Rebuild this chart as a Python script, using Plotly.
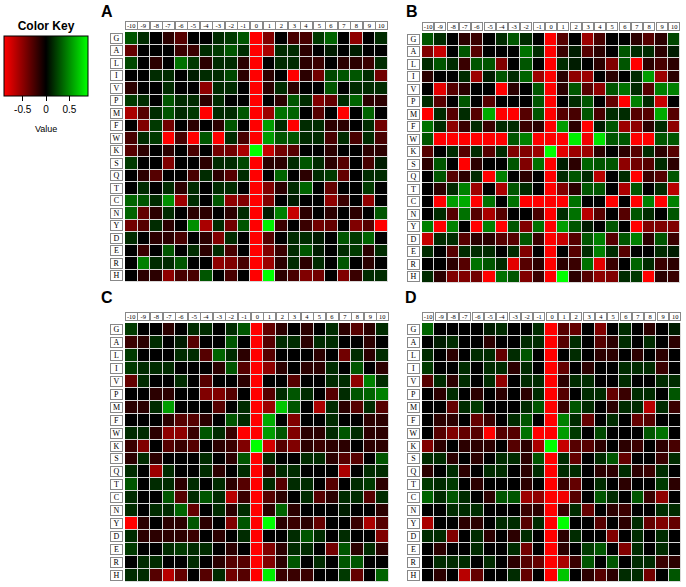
import plotly.graph_objects as go

W, H = 686, 587

# amino acid rows and residue positions
rows = ['G', 'A', 'L', 'I', 'V', 'P', 'M', 'F', 'W', 'K',
        'S', 'Q', 'T', 'C', 'N', 'Y', 'D', 'E', 'R', 'H']
cols = list(range(-10, 11))

# values (rows x positions)
panel_a = [
    [0.3, 0.15, 0, -0.15, -0.3, 0, 0, 0.15, 0.2, 0.3, -0.9, -0.45, 0, -0.25, -0.25, 0.2, 0.35, 0, -0.5, 0, 0.15],
    [-0.35, 0, 0, 0, -0.2, -0.2, 0.15, 0.2, 0.3, 0.15, -0.9, -0.6, 0.15, 0.15, -0.15, 0, 0.1, 0, 0.1, 0, 0],
    [0.25, 0, -0.15, 0, 0.4, 0.2, -0.15, 0.15, 0.15, -0.15, -0.9, 0, 0.15, 0.15, -0.15, -0.2, 0, -0.15, -0.15, -0.2, 0.15],
    [0, 0, 0.15, 0.15, 0, 0.1, 0.15, 0.15, 0.25, -0.15, -0.9, -0.15, 0, -0.9, -0.15, -0.4, 0.25, 0.3, 0.3, 0.15, -0.4],
    [-0.15, 0, 0, 0.15, 0, 0, -0.5, 0.15, 0.15, 0, -0.9, -0.15, 0.15, -0.15, 0, 0, 0.3, 0, 0.15, 0.15, 0.15],
    [0.2, 0.15, 0, 0.3, 0.15, 0.15, -0.15, 0.15, 0, 0, -0.9, 0, -0.15, 0.3, 0.15, -0.45, -0.35, 0.15, 0.35, -0.15, -0.15],
    [-0.6, -0.3, 0.15, 0.3, 0.15, 0.2, -0.9, 0.15, 0.15, 0.3, -0.9, -0.55, 0.4, 0.35, 0, -0.3, 0, -0.9, 0, 0.35, 0],
    [0, -0.45, 0.2, -0.4, 0, -0.15, 0, -0.15, 0.3, 0, -0.9, 0.55, 0.15, -0.9, 0.15, 0.15, -0.15, -0.15, 0, 0.15, -0.4],
    [-0.25, 0.15, 0.2, -0.9, -0.25, -0.9, 0.3, -0.9, 0.15, -0.25, -0.9, 0.55, 0.3, 0.3, 0.15, 0.15, -0.25, 0.15, -0.25, 0.15, -0.25],
    [-0.3, -0.15, 0, -0.15, 0, -0.25, 0, -0.4, -0.4, -0.6, 0.9, -0.7, -0.4, -0.3, 0, 0, -0.15, 0, 0, -0.15, -0.15],
    [0.2, 0, 0, -0.45, 0, 0, -0.15, 0.15, 0.15, 0.25, -0.9, -0.15, -0.15, 0.15, 0.3, 0.15, -0.15, -0.3, 0, -0.25, 0.1],
    [0, -0.15, -0.3, 0, 0, -0.25, 0.15, -0.15, -0.3, 0.15, -0.9, 0, 0.35, 0, -0.15, 0.15, 0.2, -0.35, 0, 0.15, 0.15],
    [0, 0.15, 0, 0.15, -0.15, 0.15, 0, 0.15, 0.15, 0, -0.9, -0.45, -0.15, 0.15, 0.35, 0, -0.35, 0, 0, 0.2, 0],
    [0.35, 0.3, 0.15, 0.5, -0.55, 0.15, 0, 0.3, -0.5, -0.45, -0.9, -0.45, 0, 0.1, 0, 0, -0.5, -0.2, 0, -0.5, 0],
    [0.35, -0.35, -0.15, 0.15, 0, -0.15, -0.15, 0, -0.15, 0.15, -0.9, 0.1, 0.45, -0.7, -0.15, 0, -0.15, 0, -0.15, 0, 0.3],
    [-0.4, -0.3, 0.15, -0.15, 0, 0.5, -0.6, 0.15, -0.4, 0.3, -0.9, 0.85, -0.2, 0, -0.2, -0.4, -0.35, 0, -0.45, -0.3, -0.9],
    [0.15, 0, -0.15, -0.15, -0.25, 0, -0.15, -0.45, 0.15, 0, -0.9, -0.3, 0, 0.15, 0.15, 0.1, 0, 0.3, 0.2, 0.35, 0],
    [0, -0.2, 0, 0.3, 0, 0.15, -0.15, 0.15, -0.25, 0, -0.9, -0.45, -0.2, 0.15, 0.3, 0.1, 0, 0.15, 0.2, -0.15, 0.15],
    [0, 0.45, 0.15, 0.15, 0.3, 0, 0, -0.5, -0.45, -0.25, -0.9, -0.55, -0.15, 0.15, -0.15, 0.15, 0, 0.3, 0, -0.15, 0],
    [0, -0.15, -0.15, -0.5, -0.25, -0.25, 0.3, 0, -0.25, 0, -0.9, 0.9, -0.15, -0.25, -0.45, -0.4, 0, -0.45, -0.2, 0.15, 0.15],
]

panel_b = [
    [0.3, 0.15, 0, -0.15, -0.2, 0, 0.15, 0.3, 0.15, 0, -0.9, -0.3, 0, -0.55, -0.25, 0, 0, -0.15, -0.3, -0.15, 0.25],
    [-0.45, -0.7, 0, 0.3, -0.3, 0, 0, 0, 0.4, 0.15, -0.9, -0.2, 0.1, -0.3, -0.15, 0, 0.3, 0.15, 0.15, -0.15, 0.1],
    [0.15, 0.3, 0.15, -0.2, 0.3, 0.3, -0.45, 0, 0.3, 0, -0.9, 0.15, 0.1, 0, -0.15, -0.45, 0.3, -0.9, -0.15, -0.25, -0.15],
    [-0.15, 0, 0, 0.15, -0.55, 0.1, 0.3, 0.15, 0.35, -0.55, -0.9, -0.15, -0.5, -0.55, 0, -0.15, 0, 0.15, 0.55, -0.55, -0.15],
    [0, -0.8, -0.3, -0.15, 0, 0, -0.9, -0.15, 0, 0.3, -0.9, -0.15, 0.3, -0.3, -0.5, 0.3, 0.4, 0.15, -0.3, 0.45, 0.45],
    [0.15, -0.3, 0, 0.3, 0, -0.3, 0, 0, 0, 0.3, -0.9, 0, 0.15, 0.3, 0, -0.35, -0.9, 0.45, 0.15, -0.7, 0],
    [-0.9, 0.15, -0.3, 0.15, -0.3, 0.6, -0.9, -0.9, -0.3, 0.3, -0.9, -0.3, -0.25, 0.3, -0.25, 0.15, 0.15, -0.3, -0.3, 0.6, -0.3],
    [0.4, 0.15, -0.5, -0.2, 0.15, -0.2, 0.15, 0.15, -0.2, -0.15, -0.9, 0.55, -0.15, -0.9, 0.1, 0.3, -0.55, -0.5, -0.15, 0.15, -0.5],
    [0.3, -0.9, -0.9, -0.9, -0.9, -0.9, -0.9, 0.3, 0.45, -0.9, -0.9, -0.9, 0.85, -0.85, 0.8, 0.3, 0.3, -0.9, -0.9, 0.3, 0.3],
    [-0.3, 0, 0.15, -0.3, 0.15, -0.3, 0.15, -0.45, -0.45, -0.55, 0.9, -0.8, -0.55, -0.55, -0.15, 0, -0.15, -0.3, 0.15, -0.15, -0.3],
    [-0.15, 0.3, 0, -0.9, -0.15, 0, 0, 0.3, -0.45, 0.4, -0.9, 0.1, -0.15, 0.35, 0.3, 0.3, -0.5, -0.4, -0.3, 0.15, -0.15],
    [0, 0.3, -0.3, -0.15, 0.15, -0.9, 0.45, 0, -0.15, 0, -0.9, 0.15, 0.3, 0.15, -0.65, 0, 0.15, -0.9, -0.2, -0.3, 0.3],
    [0, -0.15, 0.15, 0.45, -0.55, 0, -0.6, 0.3, 0.15, 0, -0.9, -0.45, -0.15, 0.3, 0.3, 0, -0.6, 0.3, 0, 0.15, -0.65],
    [0, -0.9, 0.55, 0.6, -0.9, 0.4, 0, 0.4, -0.9, -0.9, -0.9, -0.9, 0.4, 0, 0, -0.9, 0, -0.9, 0.45, -0.9, 0.45],
    [0, 0.15, -0.3, 0.4, -0.3, -0.6, -0.3, 0, 0, -0.25, -0.9, 0.15, 0.4, -0.65, -0.3, 0, -0.3, 0.3, 0.15, 0, 0.3],
    [0.45, -0.9, 0.45, 0, -0.9, 0.45, -0.9, 0.3, -0.45, 0.4, -0.9, 0.55, 0.3, 0.1, 0, 0.3, 0, -0.9, -0.45, -0.45, -0.45],
    [-0.7, 0.15, 0.15, -0.3, -0.15, -0.15, -0.3, -0.3, 0.3, -0.2, -0.9, -0.7, -0.3, 0.3, 0.45, -0.3, 0.3, 0.45, -0.15, 0.3, -0.2],
    [0.15, 0, -0.3, 0.15, 0.15, 0.15, 0, 0.15, -0.45, 0, -0.9, 0, -0.3, 0.15, 0.45, 0.15, -0.3, 0, 0, 0.15, 0.1],
    [0, 0, -0.15, -0.3, 0.4, 0.3, 0.15, -0.8, -0.3, -0.15, -0.9, -0.15, -0.2, 0.4, -0.8, -0.2, 0, 0.35, 0.15, -0.2, -0.15],
    [0.15, -0.15, -0.45, -0.45, -0.4, -0.9, 0.4, 0.3, -0.45, -0.2, -0.9, 0.9, -0.15, -0.3, -0.5, -0.45, 0.15, 0.2, -0.9, -0.15, -0.2],
]

panel_c = [
    [0.2, 0, 0, -0.15, 0, 0.15, 0.15, 0, 0.15, 0.3, -0.9, -0.35, -0.15, 0, -0.15, 0, 0.15, -0.15, -0.3, -0.15, 0.15],
    [-0.2, -0.15, 0.15, 0, 0.1, -0.3, 0, 0, 0.3, 0, -0.9, -0.3, 0.15, 0.15, -0.15, 0.15, 0.15, 0, 0, -0.15, 0],
    [0.2, 0, 0, 0, 0.15, 0.15, -0.3, 0.35, 0.15, -0.15, -0.9, -0.3, 0, 0, 0, -0.15, 0, -0.4, 0.15, -0.15, 0.15],
    [0.2, 0.15, 0.15, 0.15, 0, 0, 0, -0.15, 0.3, -0.3, -0.9, -0.5, -0.15, 0, -0.15, -0.15, 0.15, 0, 0.3, 0, -0.15],
    [-0.35, 0.15, 0, 0, 0.15, 0, -0.3, 0, 0, -0.15, -0.9, 0, 0, -0.3, 0, 0, 0.15, 0.15, -0.5, 0.45, 0.15],
    [0, 0, -0.15, -0.15, 0, 0, -0.45, -0.45, -0.3, 0, -0.9, -0.3, 0.15, 0.3, 0.15, 0, -0.3, 0.15, 0.3, 0.35, 0.45],
    [-0.15, -0.15, 0.15, 0.55, 0, 0, 0, -0.3, 0, 0.15, -0.9, -0.55, 0.7, 0.3, 0, -0.6, 0.15, -0.15, -0.3, 0.15, -0.3],
    [0, 0, 0, -0.15, -0.3, -0.3, -0.15, 0, 0.3, 0.15, -0.9, 0.6, 0, -0.45, 0, 0, 0.15, 0, 0, -0.15, -0.15],
    [0.15, 0.15, -0.15, -0.5, -0.5, -0.2, 0.3, 0.15, -0.2, -0.9, -0.9, 0.55, 0.3, -0.45, -0.15, -0.15, 0.15, 0.3, 0.15, -0.15, -0.15],
    [-0.2, -0.45, 0, -0.3, -0.2, -0.3, 0, -0.15, -0.2, -0.45, 0.9, -0.75, -0.3, -0.45, -0.15, -0.2, -0.15, -0.15, 0, -0.15, -0.15],
    [-0.15, 0.15, -0.15, 0, 0, 0, 0.15, 0, -0.15, 0.3, -0.9, 0.15, 0, 0, 0.15, 0.15, -0.15, -0.3, -0.3, 0, 0.3],
    [0.15, 0, -0.55, 0.15, 0, 0, 0.15, -0.15, 0, 0.15, -0.9, -0.2, 0.15, 0.15, 0, 0, 0, -0.6, 0, 0.15, 0.15],
    [0.3, 0, 0.15, 0.15, -0.15, 0.15, 0, 0.15, -0.15, -0.3, -0.9, 0.15, -0.3, 0.15, 0.15, 0, -0.3, 0, 0.15, 0.2, -0.15],
    [0.15, 0, 0, 0.3, -0.3, 0.15, 0.3, 0.15, -0.65, -0.2, -0.9, -0.3, -0.15, 0, 0.15, -0.3, -0.15, 0.15, 0.15, -0.3, 0.15],
    [0.15, 0, 0.15, 0.15, 0.35, -0.35, 0, 0.15, -0.15, 0.15, -0.9, -0.15, 0.35, -0.15, 0, 0, 0, 0.1, 0, 0, -0.15],
    [-0.9, -0.15, 0, -0.15, -0.15, 0.3, -0.15, 0, -0.45, 0.3, -0.9, 0.9, -0.15, -0.2, -0.15, -0.35, 0, 0, -0.2, -0.6, -0.3],
    [0.15, -0.15, -0.15, -0.15, -0.15, -0.2, 0, -0.15, 0, 0.15, -0.9, 0, 0, 0.15, 0.3, 0.15, 0, 0.15, 0, 0, -0.45],
    [0.2, 0, 0, 0.15, 0.2, 0.15, 0.15, 0, -0.15, 0, -0.9, -0.45, -0.15, 0.15, 0.15, 0, -0.4, 0.3, -0.15, 0.15, -0.15],
    [0, 0.15, 0.15, 0, 0, 0.15, 0, -0.15, -0.3, -0.3, -0.9, -0.45, -0.15, 0.3, 0, 0.15, 0, 0.3, 0.3, 0, 0],
    [0.15, 0.15, -0.3, -0.65, -0.35, 0, -0.3, 0.15, -0.4, -0.3, -0.9, 0.85, -0.2, -0.2, -0.2, 0, 0, 0.2, -0.35, 0, 0.35],
]

panel_d = [
    [0.35, 0, 0, 0, 0, 0.1, 0.15, 0, 0, 0.15, -0.9, -0.3, -0.35, 0, -0.45, 0, 0.15, 0, -0.15, 0, 0.1],
    [0, 0.1, 0.15, 0, 0, -0.15, 0, 0, 0.15, 0.15, -0.9, -0.3, 0.15, 0, -0.3, -0.15, 0.15, 0, 0.15, 0, -0.15],
    [0.15, 0, -0.15, 0, 0.15, 0.15, -0.35, 0.15, 0.3, 0, -0.9, 0, 0.15, 0, -0.15, -0.15, 0, -0.15, 0, -0.15, 0],
    [0.2, 0, 0, 0.15, 0, 0.15, 0.15, -0.15, 0.15, 0, -0.9, -0.35, 0, -0.15, 0, 0, 0.15, 0.15, 0.15, -0.2, 0],
    [-0.3, 0.15, -0.15, 0.15, 0, 0.15, -0.5, 0, 0.15, 0.15, -0.9, -0.15, 0.15, 0.15, 0, 0, 0.15, 0, 0, 0.15, 0.15],
    [0, -0.15, 0.15, 0, -0.15, 0, -0.15, 0, -0.15, 0.15, -0.9, -0.3, 0, 0.15, 0.15, -0.35, -0.2, 0.15, 0.15, 0, 0.3],
    [0, 0, -0.35, 0.15, 0.2, 0, 0, 0, 0.15, 0.3, -0.9, -0.2, 0.3, 0.15, 0, -0.15, 0.15, 0.15, -0.65, 0.15, -0.2],
    [0, -0.15, -0.15, 0, -0.35, -0.2, 0, 0.15, 0.3, 0, -0.9, 0.45, 0.15, -0.35, 0, 0.15, 0, -0.35, -0.3, 0, 0],
    [0, -0.3, -0.45, -0.35, -0.3, -0.9, -0.3, -0.3, 0.4, -0.9, -0.9, 0.55, 0.2, 0, 0.25, 0, 0, 0, 0.3, 0.4, 0],
    [-0.45, -0.15, 0, -0.15, -0.15, -0.15, 0, -0.3, -0.15, -0.6, 0.9, -0.7, -0.3, -0.3, -0.15, 0, -0.15, -0.2, 0, -0.15, -0.25],
    [0.15, 0.15, -0.15, 0, -0.15, 0, 0.15, 0.15, -0.15, 0.3, -0.9, 0.15, -0.35, 0, 0.15, 0.3, -0.35, 0, 0, -0.2, 0.15],
    [-0.15, 0, 0.15, -0.15, 0, 0.15, 0.15, 0, -0.15, 0.15, -0.9, 0.15, 0.15, 0, -0.15, -0.15, 0.15, -0.15, -0.2, 0.15, 0],
    [0.2, 0.15, 0.2, 0, -0.15, 0, 0, 0, -0.15, 0, -0.9, -0.2, -0.35, 0, 0.15, 0, -0.15, 0, 0, 0.2, -0.15],
    [0.35, 0.15, 0.3, 0.15, 0, -0.15, 0.3, 0.3, -0.55, -0.5, -0.9, -0.85, -0.3, 0, 0.3, 0.15, 0, 0.3, -0.2, -0.5, 0],
    [0, 0, 0.15, 0.15, 0.15, 0, 0, 0, -0.2, -0.15, -0.9, -0.2, 0.15, -0.35, 0, -0.15, -0.2, 0, 0, 0.15, 0.15],
    [-0.6, 0, 0, -0.15, -0.15, 0, 0.15, 0.15, -0.3, 0.15, -0.9, 0.9, 0, 0, -0.3, 0, -0.15, 0.15, -0.35, -0.45, -0.35],
    [0.15, 0.15, -0.45, 0, 0.15, -0.15, 0, -0.15, 0.15, 0, -0.9, -0.15, 0.15, 0, 0, -0.45, 0, 0.15, 0, 0.15, 0],
    [0, -0.15, 0, 0, 0.15, 0, 0, 0.15, -0.4, 0, -0.9, -0.15, 0, 0.2, 0.3, 0, -0.45, 0.15, 0, 0.15, 0],
    [0, 0.15, 0.15, 0.15, 0, 0.15, 0, -0.15, -0.3, -0.35, -0.9, -0.6, -0.2, 0.3, 0, 0.3, 0, 0.15, 0.15, -0.2, -0.15],
    [0, -0.15, 0, -0.65, -0.35, 0, 0, 0.15, -0.35, 0, -0.9, 0.7, 0, -0.15, -0.3, -0.15, 0.15, 0.15, -0.4, 0, 0.3],
]

panels = [('A', panel_a), ('B', panel_b), ('C', panel_c), ('D', panel_d)]

# pixel boxes of each grid: left, right, top, bottom
boxes = {
    'A': (125, 388, 32, 282),
    'B': (422, 680, 33, 283),
    'C': (125, 389, 323, 582),
    'D': (422, 681, 323, 582),
}
letter_pos = {'A': (107, 11), 'B': (412, 11), 'C': (107, 298), 'D': (411, 298)}

redgreen = [[0, '#ff0000'], [0.5, '#000000'], [1, '#00ff00']]
serif = 'Liberation Serif'
sans = 'Liberation Sans'

fig = go.Figure()
annotations = []

for i, (name, z) in enumerate(panels):
    n = '' if i == 0 else str(i + 1)
    left, right, top, bottom = boxes[name]
    fig.add_trace(go.Heatmap(
        z=z, x=cols, y=rows,
        colorscale=redgreen, zmin=-0.9, zmax=0.9,
        xgap=1, ygap=1,
        xaxis='x' + n, yaxis='y' + n,
        showscale=(i == 0),
        hoverinfo='skip',
        colorbar=dict(
            orientation='h',
            x=46 / W, xanchor='center',
            y=1 - 22 / H, yanchor='top',
            len=84 / W, lenmode='fraction',
            thickness=60, thicknessmode='pixels',
            outlinewidth=1, outlinecolor='#000000',
            xpad=0, ypad=0,
            tickvals=[-0.5, 0, 0.5], ticktext=['-0.5', '0', '0.5'],
            ticks='outside', ticklen=5, tickcolor='#000000',
            tickfont=dict(family=sans, size=10, color='#000000'),
            title=dict(text='<b>Color Key</b>', side='top',
                       font=dict(family=sans, size=12, color='#000000')),
        ),
    ))
    fig.update_layout({
        'xaxis' + n: dict(domain=[left / W, right / W], range=[-10.5, 10.5],
                          showticklabels=False, showgrid=False, zeroline=False,
                          ticks='', anchor='y' + n, fixedrange=True),
        'yaxis' + n: dict(domain=[1 - bottom / H, 1 - top / H], autorange='reversed',
                          showticklabels=False, showgrid=False, zeroline=False,
                          ticks='', anchor='x' + n, fixedrange=True),
    })
    cw = (right - left) / 21
    rh = (bottom - top) / 20
    xr, yr = 'x' + n, 'y' + n
    for c in cols:
        annotations.append(dict(
            text=str(c), x=c, xref=xr, y=1, yref=yr + ' domain',
            yanchor='bottom', yshift=2, showarrow=False,
            width=cw - 2, height=7, borderpad=0,
            bordercolor='#888888', borderwidth=1, bgcolor='#ffffff',
            font=dict(family=serif, size=6.5, color='#000000'),
        ))
    for r in rows:
        annotations.append(dict(
            text=r, x=0, xref=xr + ' domain', y=r, yref=yr,
            xanchor='right', xshift=-2, showarrow=False,
            width=11, height=rh - 4, borderpad=0,
            bordercolor='#888888', borderwidth=1, bgcolor='#ffffff',
            font=dict(family=serif, size=8, color='#000000'),
        ))
    lx, ly = letter_pos[name]
    annotations.append(dict(
        text='<b>' + name + '</b>', x=lx / W, y=1 - ly / H, xref='paper', yref='paper',
        xanchor='center', yanchor='middle', showarrow=False,
        font=dict(family=sans, size=16, color='#000000'),
    ))

annotations.append(dict(
    text='Value', x=46 / W, y=1 - 129 / H, xref='paper', yref='paper',
    xanchor='center', yanchor='middle', showarrow=False,
    font=dict(family=sans, size=9, color='#000000'),
))

fig.update_layout(
    width=W, height=H,
    margin=dict(l=0, r=0, t=0, b=0),
    paper_bgcolor='#ffffff',
    plot_bgcolor='#d9d9d9',
    annotations=annotations,
    showlegend=False,
)

fig.write_html("out.html", config={'displayModeBar': False},
               post_script="document.body.style.margin='0';")
